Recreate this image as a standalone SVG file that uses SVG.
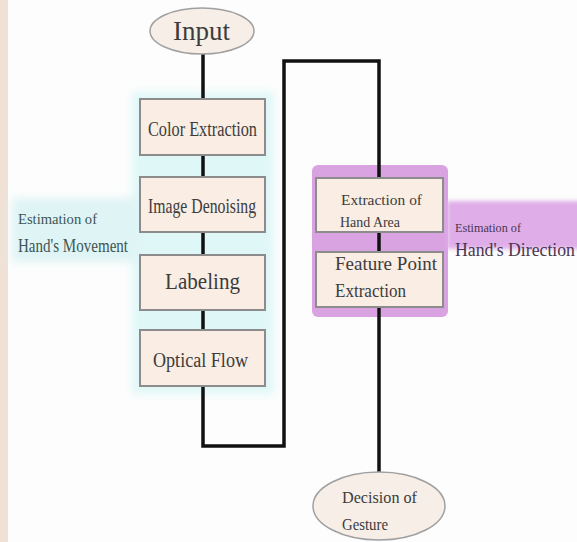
<svg xmlns="http://www.w3.org/2000/svg" width="577" height="542" viewBox="0 0 577 542">
<style>
.box{fill:#f9ede4;stroke:#8c8c8c;stroke-width:2}
.ell{fill:#f6eee7;stroke:#a0a0a0;stroke-width:1.5}
.conn{fill:none;stroke:#111;stroke-width:3.5}
text{font-family:"Liberation Serif","DejaVu Serif",serif;fill:#3c3c3c}
.lt{fill:#3d5454}
.rt{fill:#4a3550}
</style>
<defs>
<filter id="soft" x="-20%" y="-20%" width="140%" height="140%"><feGaussianBlur stdDeviation="4"/></filter>
<filter id="soft2" x="-20%" y="-20%" width="140%" height="140%"><feGaussianBlur stdDeviation="2"/></filter>
</defs>
<rect width="577" height="542" fill="#fdfdfd"/>
<rect x="0" y="0" width="8" height="542" fill="#efe1d6"/>
<g id="backgrounds">
<rect x="132" y="92" width="142" height="302" fill="#e0f7f7" filter="url(#soft)"/>
<rect x="12" y="198" width="128" height="64" fill="#dff4f4" filter="url(#soft)"/>
<rect x="312" y="165" width="136" height="152" rx="6" fill="#d9a3e2"/>
<rect x="447" y="201" width="135" height="48" fill="#dfade8" filter="url(#soft2)"/>
</g>
<g id="connectors">
<line class="conn" x1="203" y1="54" x2="203" y2="99"/>
<line class="conn" x1="203" y1="155" x2="203" y2="177"/>
<line class="conn" x1="203" y1="232" x2="203" y2="255"/>
<line class="conn" x1="203" y1="310" x2="203" y2="330"/>
<polyline class="conn" points="203,386 203,446 284,446 284,61 379,61 379,178"/>
<line class="conn" x1="379" y1="232" x2="379" y2="252"/>
<line class="conn" x1="379" y1="307" x2="379" y2="473"/>
</g>
<g id="input">
<ellipse class="ell" cx="202" cy="31" rx="52" ry="23"/>
<text x="173" y="40" font-size="28" textLength="57" lengthAdjust="spacingAndGlyphs">Input</text>
</g>
<g id="color-extraction">
<rect class="box" x="140" y="99" width="125" height="56"/>
<text x="148" y="136" font-size="20" textLength="109" lengthAdjust="spacingAndGlyphs">Color Extraction</text>
</g>
<g id="image-denoising">
<rect class="box" x="140" y="177" width="125" height="55"/>
<text x="148" y="213" font-size="21" textLength="108" lengthAdjust="spacingAndGlyphs">Image Denoising</text>
</g>
<g id="labeling">
<rect class="box" x="140" y="255" width="125" height="55"/>
<text x="165" y="289" font-size="23" textLength="75" lengthAdjust="spacingAndGlyphs">Labeling</text>
</g>
<g id="optical-flow">
<rect class="box" x="140" y="330" width="125" height="56"/>
<text x="153" y="367" font-size="20" textLength="95" lengthAdjust="spacingAndGlyphs">Optical Flow</text>
</g>
<g id="hand-area">
<rect class="box" x="316" y="178" width="127" height="54"/>
<text x="341" y="205" font-size="15" textLength="81" lengthAdjust="spacingAndGlyphs">Extraction of</text>
<text x="340" y="227" font-size="15" textLength="60" lengthAdjust="spacingAndGlyphs">Hand Area</text>
</g>
<g id="feature-point">
<rect class="box" x="316" y="252" width="127" height="55"/>
<text x="335" y="270" font-size="19" textLength="102" lengthAdjust="spacingAndGlyphs">Feature Point</text>
<text x="335" y="297" font-size="19" textLength="71" lengthAdjust="spacingAndGlyphs">Extraction</text>
</g>
<g id="decision">
<ellipse class="ell" cx="379" cy="506" rx="66" ry="34"/>
<text x="342" y="503" font-size="17" textLength="75" lengthAdjust="spacingAndGlyphs">Decision of</text>
<text x="342" y="530" font-size="17" textLength="46" lengthAdjust="spacingAndGlyphs">Gesture</text>
</g>
<g id="movement-label">
<text class="lt" x="18" y="224" font-size="14" textLength="79" lengthAdjust="spacingAndGlyphs">Estimation of</text>
<text class="lt" x="18" y="252" font-size="19" textLength="110" lengthAdjust="spacingAndGlyphs">Hand's Movement</text>
</g>
<g id="direction-label">
<text class="rt" x="455" y="232" font-size="13" textLength="66" lengthAdjust="spacingAndGlyphs">Estimation of</text>
<text class="rt" x="455" y="256" font-size="18" textLength="120" lengthAdjust="spacingAndGlyphs">Hand's Direction</text>
</g>
</svg>
